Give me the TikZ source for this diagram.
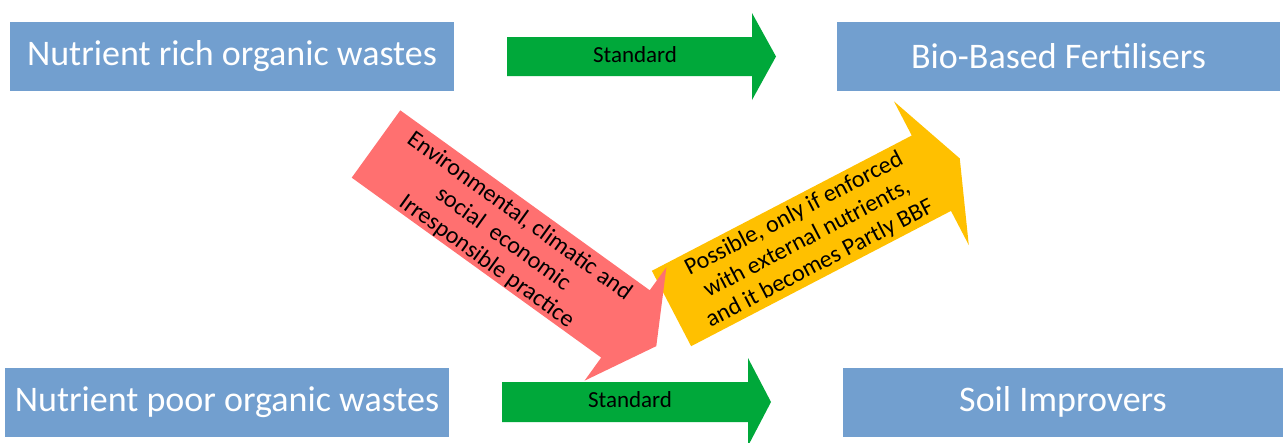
\documentclass[tikz,border=0pt]{standalone}
\usepackage{fontspec}
\setmainfont{Carlito}
\usepackage{xcolor}
\usepackage{tikz}
\usetikzlibrary{positioning}

\definecolor{boxblue}{RGB}{114,159,207}
\definecolor{stdgreen}{RGB}{0,168,58}
\definecolor{badred}{RGB}{255,112,112}
\definecolor{bbfgold}{RGB}{255,192,0}

% block arrow: colour, tail centre, angle, length, shaft width, head length, head width
\newcommand{\blockarrow}[7]{%
\begin{scope}[shift={#2},rotate=#3]
\fill[#1](0,-#5/2)--(#4-#6,-#5/2)--(#4-#6,-#7/2)--(#4,0)--(#4-#6,#7/2)--(#4-#6,#5/2)--(0,#5/2)--cycle;
\end{scope}}

\tikzset{
  wastebox/.style={fill=boxblue,text=white,inner sep=0pt,minimum height=69pt,
    font=\fontsize{36}{43}\selectfont},
  stdlabel/.style={font=\fontsize{23}{27}\selectfont,inner sep=0pt},
  slantlabel/.style={font=\fontsize{24}{28}\selectfont,align=center,inner sep=0pt}
}

\begin{document}
\begin{tikzpicture}[x=1pt,y=-1pt]
\useasboundingbox(0,0)rectangle(1283,442);
% boxes
\node[wastebox,minimum width=444pt](rich)at(232,56.5){Nutrient rich organic wastes};
\node[wastebox,minimum width=443pt](bbf)at(1058.5,56.5){Bio-Based Fertilisers};
\node[wastebox,minimum width=444pt](poor)at(227,402.5){Nutrient poor organic wastes};
\node[wastebox,minimum width=440pt](soil)at(1063,402){Soil Improvers};
% block arrows
\blockarrow{bbfgold}{(671.5,308.5)}{27.5}{325}{85}{32}{162}
\blockarrow{badred}{(376,144)}{-35.8}{345.6}{83}{38}{140}
\blockarrow{stdgreen}{(507,56.5)}{0}{269}{39}{24}{87}
\blockarrow{stdgreen}{(502,402)}{0}{269}{40}{23}{88}
% labels
\node[stdlabel](stdtop)at(635,55){Standard};
\node[stdlabel](stdbot)at(630,400){Standard};
\node[slantlabel,rotate=-35.8](redlbl)at(503,239){Environmental, climatic and\\social~ economic\\Irresponsible practice};
\node[slantlabel,rotate=27.5](goldlbl)at(807,239){Possible, only if enforced\\with external nutrients,\\and it becomes Partly BBF};
\end{tikzpicture}
\end{document}
